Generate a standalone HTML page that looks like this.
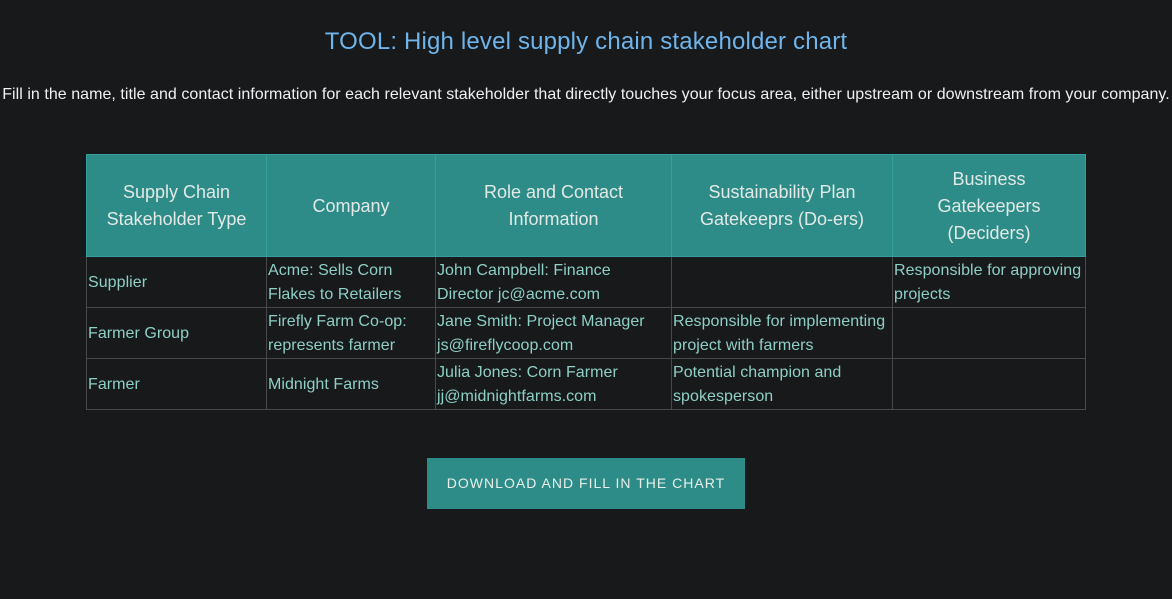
<!DOCTYPE html>
<html lang="en">
<head>
<meta charset="utf-8">
<title>TOOL: High level supply chain stakeholder chart</title>
<style>
html,body{margin:0;padding:0;width:1172px;height:599px;overflow:hidden;background:#18191b;font-family:"Liberation Sans",sans-serif;}
.abs{position:absolute;white-space:nowrap;}
#title{left:0;width:1172px;top:27px;text-align:center;font-size:24px;line-height:30px;color:#6fb4ea;letter-spacing:0.17px;}
#sub{left:0;width:1172px;top:85px;text-align:center;font-size:16px;line-height:20px;color:#f0f0f0;letter-spacing:0.044px;}
table{position:absolute;left:86px;top:154px;width:1000px;border-collapse:collapse;table-layout:fixed;}
th{background:#2d8c88;border:1px solid #34a09b;color:#e2e9e6;font-weight:normal;font-size:18px;line-height:27px;text-align:center;padding:1px 0 0;height:100px;white-space:nowrap;}
td{border:1px solid #47494b;color:#8ed0c6;font-size:16px;line-height:24px;padding:1px 1px 0;height:51px;white-space:nowrap;box-sizing:border-box;vertical-align:middle;letter-spacing:0.05px;}
#btn{left:427px;top:458px;width:318px;height:51px;background:#2d8c88;color:#e8eeea;font-size:14px;line-height:50px;text-align:center;letter-spacing:1.02px;}
</style>
</head>
<body>
<div class="abs" id="title">TOOL: High level supply chain stakeholder chart</div>
<div class="abs" id="sub">Fill in the name, title and contact information for each relevant stakeholder that directly touches your focus area, either upstream or downstream from your company.</div>
<table>
<colgroup><col style="width:180px"><col style="width:169px"><col style="width:236px"><col style="width:221px"><col style="width:193px"></colgroup>
<tr>
<th>Supply Chain<br>Stakeholder Type</th>
<th>Company</th>
<th>Role and Contact<br>Information</th>
<th>Sustainability Plan<br>Gatekeeprs (Do-ers)</th>
<th>Business<br>Gatekeepers<br>(Deciders)</th>
</tr>
<tr>
<td>Supplier</td>
<td>Acme: Sells Corn<br>Flakes to Retailers</td>
<td>John Campbell: Finance<br>Director jc@acme.com</td>
<td></td>
<td>Responsible for approving<br>projects</td>
</tr>
<tr>
<td>Farmer Group</td>
<td>Firefly Farm Co-op:<br>represents farmer</td>
<td>Jane Smith: Project Manager<br>js@fireflycoop.com</td>
<td>Responsible for implementing<br>project with farmers</td>
<td></td>
</tr>
<tr>
<td>Farmer</td>
<td>Midnight Farms</td>
<td>Julia Jones: Corn Farmer<br>jj@midnightfarms.com</td>
<td>Potential champion and<br>spokesperson</td>
<td></td>
</tr>
</table>
<div class="abs" id="btn">DOWNLOAD AND FILL IN THE CHART</div>
</body>
</html>
